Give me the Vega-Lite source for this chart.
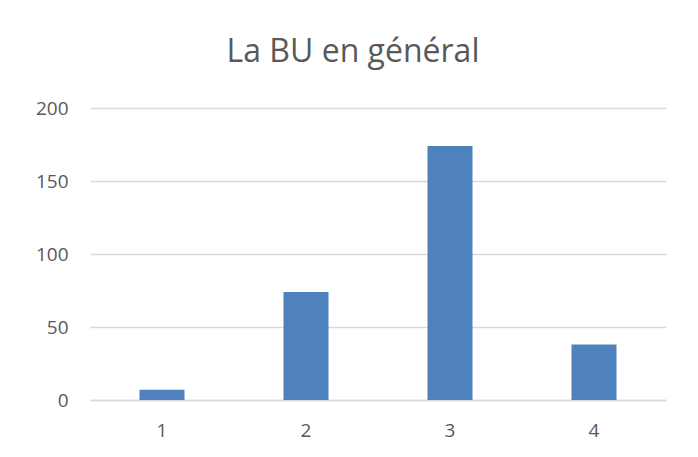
{
  "$schema": "https://vega.github.io/schema/vega-lite/v6.json",
  "autosize": "none",
  "width": 576,
  "height": 292,
  "padding": {"left": 90, "top": 108, "right": 32, "bottom": 57},
  "background": "white",
  "title": {
    "text": "La BU en général",
    "font": "Open Sans",
    "fontSize": 32,
    "fontWeight": "normal",
    "color": "#595959",
    "anchor": "middle",
    "dx": -25,
    "baseline": "alphabetic",
    "offset": 5
  },
  "data": {
    "values": [
      {"categorie": "1", "valeur": 7},
      {"categorie": "2", "valeur": 74},
      {"categorie": "3", "valeur": 174},
      {"categorie": "4", "valeur": 38}
    ]
  },
  "mark": {"type": "bar", "color": "#4f81bd"},
  "encoding": {
    "x": {
      "field": "categorie",
      "type": "ordinal",
      "scale": {"paddingInner": 0.6875, "paddingOuter": 0.34375},
      "axis": {
        "title": null,
        "labelAngle": 0,
        "labelFont": "Open Sans",
        "labelFontSize": 19,
        "labelColor": "#595959",
        "labelPadding": 21,
        "ticks": false,
        "domainColor": "#d9d9d9",
        "domainWidth": 1.5
      }
    },
    "y": {
      "field": "valeur",
      "type": "quantitative",
      "scale": {"domain": [0, 200], "nice": false},
      "axis": {
        "title": null,
        "values": [0, 50, 100, 150, 200],
        "labelFont": "Open Sans",
        "labelFontSize": 19,
        "labelColor": "#595959",
        "labelPadding": 22,
        "ticks": false,
        "domain": false,
        "gridColor": "#d9d9d9",
        "gridWidth": 1.5
      }
    }
  },
  "config": {"view": {"stroke": null}}
}
